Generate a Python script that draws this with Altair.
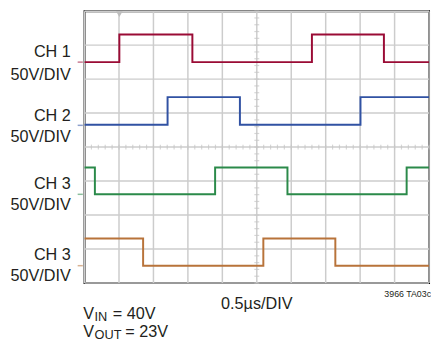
import altair as alt
import pandas as pd
import numpy as np

# ---- data (x in divisions 0..10, y in divisions 0..8) ----
ch_names = ["CH1", "CH2", "CH3", "CH4"]
ch_colors = ["#9a0b35", "#3152a3", "#2b8a4a", "#b8733a"]
ch1_t = [0.0, 1.01, 3.13, 6.60, 8.69, 10.0]
ch1_v = [6.50, 7.31, 6.50, 7.31, 6.50, 6.50]
ch2_t = [0.0, 2.41, 4.51, 8.01, 10.0]
ch2_v = [4.66, 5.47, 4.66, 5.47, 5.47]
ch3_t = [0.0, 0.30, 3.79, 5.89, 9.35, 10.0]
ch3_v = [3.40, 2.61, 3.40, 2.61, 3.40, 3.40]
ch4_t = [0.0, 1.70, 5.19, 7.28, 10.0]
ch4_v = [1.31, 0.51, 1.31, 0.51, 0.51]
ground_levels = [6.50, 4.64, 2.61, 0.51]

label_text = ["CH 1", "50V/DIV", "CH 2", "50V/DIV", "CH 3", "50V/DIV", "CH 3", "50V/DIV"]
label_y = [6.79, 6.13, 4.91, 4.30, 2.92, 2.29, 0.82, 0.19]

trigger_t = [1.01]

FONT = "Liberation Sans"
FS = 16.5
TXT = "#231f20"

xs = alt.Scale(domain=[0, 10], nice=False, zero=False)
ys = alt.Scale(domain=[0, 8], nice=False, zero=False)


def X(f):
    return alt.X(f, type="quantitative", scale=xs, axis=None)


def Y(f):
    return alt.Y(f, type="quantitative", scale=ys, axis=None)


# grid
vgrid = pd.DataFrame({"x": list(range(0, 11))})
hgrid = pd.DataFrame({"y": list(range(0, 9))})
grid_v = alt.Chart(vgrid).mark_rule(color="#cccccc", strokeWidth=1.5).encode(x=X("x"))
grid_h = alt.Chart(hgrid).mark_rule(color="#cccccc", strokeWidth=1.5).encode(y=Y("y"))

# minor ticks on center lines
tx = pd.DataFrame({"x": np.round(np.arange(0, 10.01, 0.2), 2), "y": 4.0})
ty = pd.DataFrame({"y": np.round(np.arange(0, 8.01, 0.2), 2), "x": 5.0})
ticks_x = alt.Chart(tx).mark_tick(orient="vertical", color="#c4c4c4", size=5, thickness=1.2).encode(
    x=X("x"), y=Y("y"))
ticks_y = alt.Chart(ty).mark_tick(orient="horizontal", color="#c4c4c4", size=5, thickness=1.2).encode(
    x=X("x"), y=Y("y"))

# traces
rows = []
for name, ts, vs in zip(ch_names, [ch1_t, ch2_t, ch3_t, ch4_t], [ch1_v, ch2_v, ch3_v, ch4_v]):
    for i, (t, v) in enumerate(zip(ts, vs)):
        rows.append({"ch": name, "t": t, "v": v, "o": i})
traces_df = pd.DataFrame(rows)
color_scale = alt.Scale(domain=ch_names, range=ch_colors)
traces = alt.Chart(traces_df).mark_line(interpolate="step-after", strokeWidth=2).encode(
    x=X("t"), y=Y("v"), order="o:Q",
    color=alt.Color("ch:N", scale=color_scale, legend=None))

# ground markers left of the grid
gdf = pd.DataFrame({"ch": ch_names, "y": ground_levels, "x0": -0.2, "x1": -0.05})
ground = alt.Chart(gdf).mark_rule(strokeWidth=1.5, opacity=0.55).encode(
    x=X("x0"), x2="x1", y=Y("y"),
    color=alt.Color("ch:N", scale=color_scale, legend=None))

# trigger marker
trig = alt.Chart(pd.DataFrame({"x": trigger_t, "y": 8.0})).mark_point(
    shape="triangle-down", filled=True, color="#bdbdbd", size=45, opacity=1, yOffset=3).encode(
    x=X("x"), y=Y("y"))

# channel labels
ldf = pd.DataFrame({"text": label_text, "y": label_y, "x": -0.4})
labels = alt.Chart(ldf).mark_text(align="right", baseline="middle", font=FONT, fontSize=FS,
                                  color=TXT).encode(x=X("x"), y=Y("y"), text="text:N")

# bottom texts
div_txt = alt.Chart(pd.DataFrame({"text": ["0.5µs/DIV"], "x": [5.0], "y": [-0.61]})).mark_text(
    align="center", baseline="middle", font=FONT, fontSize=FS, color=TXT).encode(
    x=X("x"), y=Y("y"), text="text:N")
code_txt = alt.Chart(pd.DataFrame({"text": ["3966 TA03c"], "x": [10.06], "y": [-0.32]})).mark_text(
    align="right", baseline="middle", font=FONT, fontSize=9, color=TXT).encode(
    x=X("x"), y=Y("y"), text="text:N")

main_df = pd.DataFrame({"text": ["V", "= 40V", "V", "= 23V"],
                        "x": [-0.04, 0.82, -0.04, 1.18],
                        "y": [-1.06, -1.06, -1.58, -1.58]})
sub_df = pd.DataFrame({"text": ["IN", "OUT"], "x": [0.29, 0.29], "y": [-1.11, -1.64]})
vmain = alt.Chart(main_df).mark_text(align="left", baseline="alphabetic", font=FONT, fontSize=FS,
                                     color=TXT).encode(x=X("x"), y=Y("y"), text="text:N")
vsub = alt.Chart(sub_df).mark_text(align="left", baseline="alphabetic", font=FONT, fontSize=13,
                                   color=TXT).encode(x=X("x"), y=Y("y"), text="text:N")

chart = alt.layer(grid_v, grid_h, ticks_x, ticks_y, ground, traces, trig, labels,
                  div_txt, code_txt, vmain, vsub).properties(
    width=351, height=277,
    padding={"left": 78, "top": 0, "right": 2, "bottom": 63},
    autosize=alt.AutoSizeParams(type="none"),
    background="white",
).configure_view(stroke="black", strokeWidth=2)

chart.save("out.html", embed_options={"renderer": "svg", "actions": False})
